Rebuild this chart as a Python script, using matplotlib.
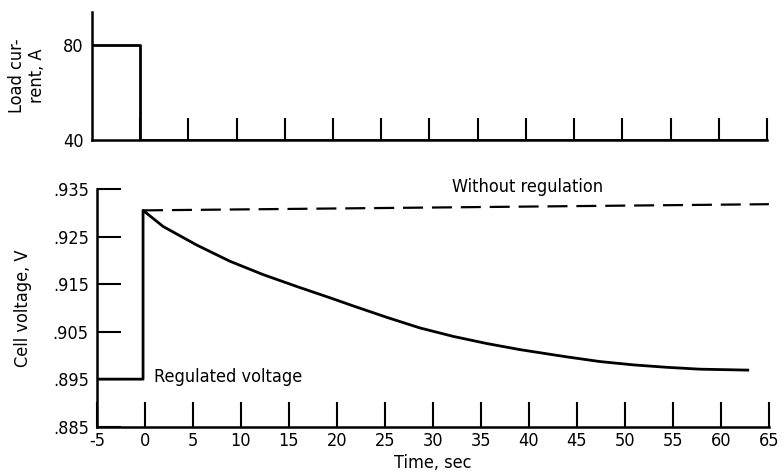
import matplotlib
matplotlib.use("Agg")
import matplotlib.pyplot as plt

plt.rcParams['font.family'] = ['DejaVu Sans']
plt.rcParams['font.stretch'] = 'condensed'
plt.rcParams['font.size'] = 13
plt.rcParams['axes.unicode_minus'] = False

# load current (top panel)
current_t = [-5, 0, 0, 65]
current_a = [80, 80, 40, 40]

# cell voltage (bottom panel)
reg_t = [-5, -0.2, -0.2, 1.9, 5.4, 8.85, 12.3, 15.8, 19.3, 21.7, 25.2, 28.6,
         32.1, 35.6, 39.1, 43.9, 47.4, 50.9, 54.3, 57.8, 62.8]
reg_v = [0.895, 0.895, 0.9305, 0.9271, 0.9232, 0.9198, 0.9170, 0.9145, 0.9121,
         0.9104, 0.9080, 0.9058, 0.9040, 0.9025, 0.9012, 0.8997, 0.8987,
         0.8980, 0.8975, 0.8971, 0.8969]
noreg_t = [-0.2, 65]
noreg_v = [0.9305, 0.9318]

x_ticks = list(range(-5, 70, 5))
v_ticks = [0.885, 0.895, 0.905, 0.915, 0.925, 0.935]
v_labels = ['.885', '.895', '.905', '.915', '.925', '.935']

fig = plt.figure(figsize=(7.84, 4.74), dpi=100)

# top panel
ax1 = fig.add_axes([0.1173, 0.7046, 0.861, 0.27])
ax1.plot(current_t, current_a, color='black', lw=2)
ax1.set_xlim(-5, 65)
ax1.set_ylim(40, 94)
ax1.spines['top'].set_visible(False)
ax1.spines['right'].set_visible(False)
ax1.spines['left'].set_linewidth(1.8)
ax1.spines['bottom'].set_linewidth(1.8)
ax1.set_xticks(x_ticks[1:])
ax1.tick_params(axis='x', direction='in', length=16, width=1.5, labelbottom=False)
ax1.set_yticks([40, 80])
ax1.tick_params(axis='y', length=0, pad=6)
ax1.set_ylabel('Load cur-\nrent, A', labelpad=12)

# bottom panel
ax2 = fig.add_axes([0.1237, 0.0998, 0.857, 0.5015])
ax2.plot(reg_t, reg_v, color='black', lw=2)
ax2.plot(noreg_t, noreg_v, color='black', lw=1.6, dashes=(9, 4))
ax2.set_xlim(-5, 65)
ax2.set_ylim(0.885, 0.935)
ax2.spines['top'].set_visible(False)
ax2.spines['right'].set_visible(False)
ax2.spines['left'].set_linewidth(1.8)
ax2.spines['bottom'].set_linewidth(1.8)
ax2.set_xticks(x_ticks)
ax2.tick_params(axis='x', direction='in', length=18, width=1.5, pad=4)
ax2.set_yticks(v_ticks)
ax2.set_yticklabels(v_labels)
ax2.tick_params(axis='y', direction='in', length=17, width=1.5, pad=6)
ax2.set_xlabel('Time, sec', labelpad=3)
ax2.set_ylabel('Cell voltage, V', labelpad=15)

ax2.text(0.9, 0.8955, 'Regulated voltage', ha='left', va='center')
ax2.text(32, 0.9335, 'Without regulation', ha='left', va='bottom')

fig.savefig('out.png', dpi=100)
